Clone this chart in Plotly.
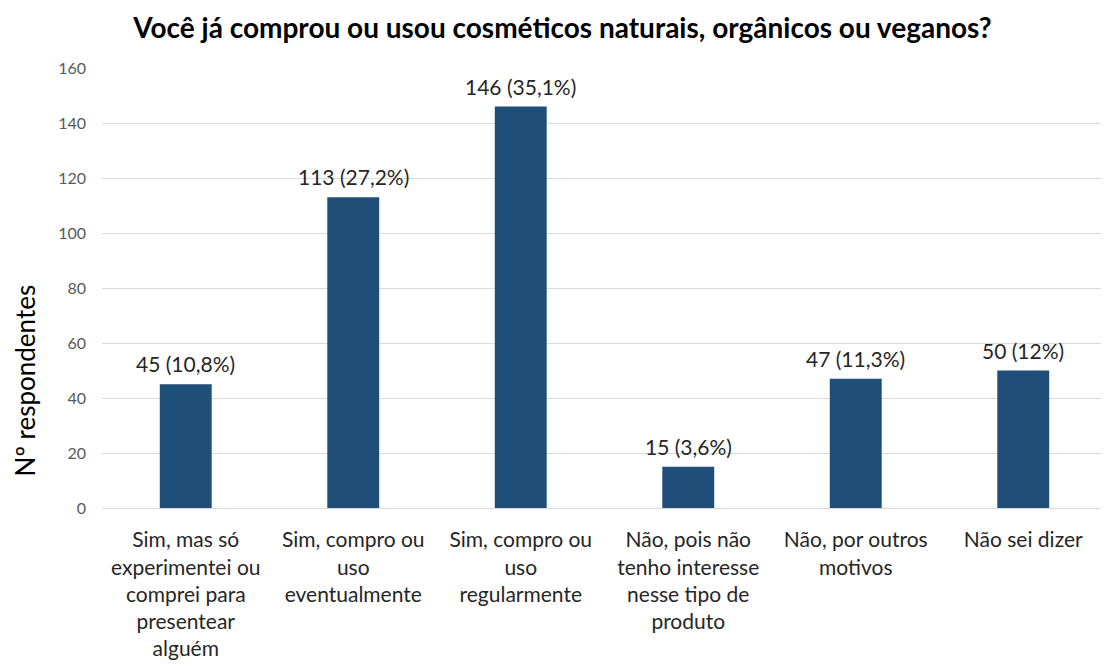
import plotly.graph_objects as go

categories = [
    "Sim, mas só<br>experimentei ou<br>comprei para<br>presentear<br>alguém",
    "Sim, compro ou<br>uso<br>eventualmente",
    "Sim, compro ou<br>uso<br>regularmente",
    "Não, pois não<br>tenho interesse<br>nesse tipo de<br>produto",
    "Não, por outros<br>motivos",
    "Não sei dizer",
]
values = [45, 113, 146, 15, 47, 50]
value_labels = ["45 (10,8%)", "113 (27,2%)", "146 (35,1%)", "15 (3,6%)", "47 (11,3%)", "50 (12%)"]
y_ticks = [0, 20, 40, 60, 80, 100, 120, 140, 160]

FONT = "Lato, Open Sans, sans-serif"

fig = go.Figure(go.Bar(
    x=categories, y=values,
    marker=dict(color="#1f4e79", line=dict(width=0)),
    hoverinfo="x+y",
))

annotations = [dict(
    text="Nº respondentes", textangle=-90, showarrow=False,
    xref="paper", yref="paper", x=-0.0766, y=0.29, xanchor="center", yanchor="middle",
    font=dict(family=FONT, size=26, color="black"),
)]
for c, v, lab in zip(categories, values, value_labels):
    annotations.append(dict(
        x=c, y=v, xref="x", yref="y", text=lab, showarrow=False,
        xanchor="center", yanchor="bottom", yshift=6,
        font=dict(family=FONT, size=21, color="#262626"),
    ))

fig.update_layout(
    width=1109, height=668,
    margin=dict(l=94, r=10, t=60, b=168),
    paper_bgcolor="white", plot_bgcolor="white",
    bargap=0.69,
    showlegend=False,
    title=dict(text="<b>Você já comprou ou usou cosméticos naturais, orgânicos ou veganos?</b>",
               x=0.5, xanchor="center", y=0.970, yanchor="middle",
               font=dict(family=FONT, size=28, color="black")),
    font=dict(family=FONT),
    annotations=annotations,
)
fig.update_yaxes(
    range=[0, 160], tickvals=y_ticks, showgrid=True, gridcolor="#d9d9d9", gridwidth=1,
    zeroline=False, showline=False, ticks="", ticklabelstandoff=15,
    tickfont=dict(family=FONT, size=16, color="#595959"),
)
fig.update_xaxes(
    showline=True, linecolor="#d9d9d9", linewidth=1, ticks="",
    tickfont=dict(family=FONT, size=21, color="#262626"),
    ticklabelstandoff=13,
)

fig.write_html("out.html")
